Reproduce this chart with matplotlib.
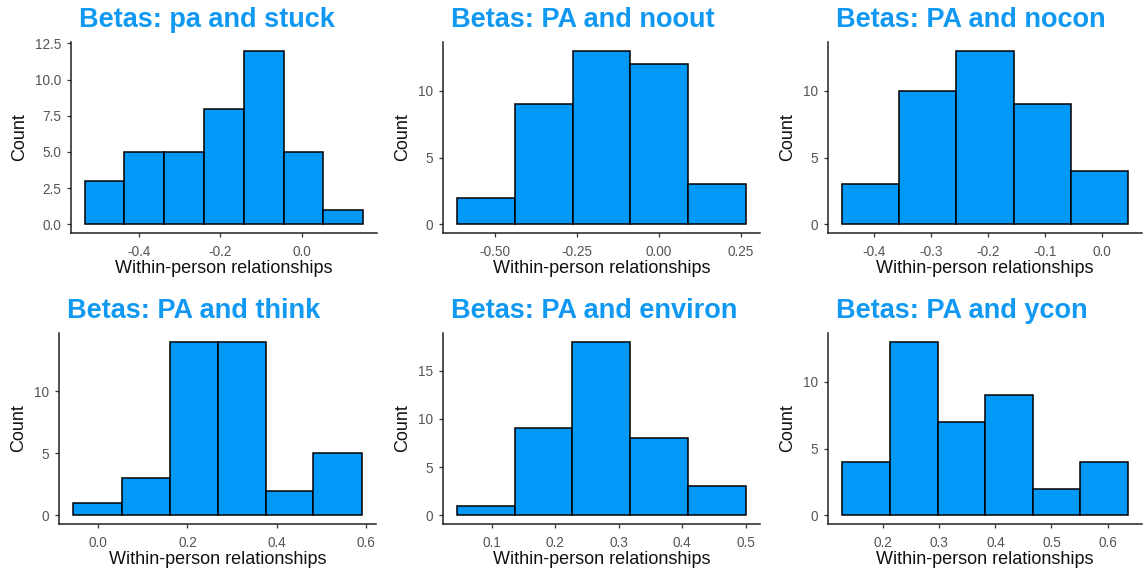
import numpy as np
import matplotlib
matplotlib.use("Agg")
import matplotlib.pyplot as plt

plt.rcParams["font.family"] = ["Liberation Sans", "DejaVu Sans"]
plt.rcParams["axes.unicode_minus"] = False

# Histogram bins (edges) and counts for each beta distribution
titles = [
    "Betas: pa and stuck",
    "Betas: PA and noout",
    "Betas: PA and nocon",
    "Betas: PA and think",
    "Betas: PA and environ",
    "Betas: PA and ycon",
]

stuck_edges = [-0.532, -0.435, -0.337, -0.240, -0.143, -0.045, 0.052, 0.150]
stuck_counts = [3, 5, 5, 8, 12, 5, 1]

noout_edges = [-0.615, -0.439, -0.263, -0.088, 0.088, 0.264]
noout_counts = [2, 9, 13, 12, 3]

nocon_edges = [-0.455, -0.355, -0.255, -0.155, -0.055, 0.045]
nocon_counts = [3, 10, 13, 9, 4]

think_edges = [-0.056, 0.052, 0.160, 0.268, 0.376, 0.483, 0.591]
think_counts = [1, 3, 14, 14, 2, 5]

environ_edges = [0.046, 0.137, 0.227, 0.318, 0.409, 0.500]
environ_counts = [1, 9, 18, 8, 3]

ycon_edges = [0.127, 0.212, 0.297, 0.382, 0.467, 0.551, 0.636]
ycon_counts = [4, 13, 7, 9, 2, 4]

# Tick positions and labels
stuck_xticks = [-0.4, -0.2, 0.0]
stuck_xlabels = ["-0.4", "-0.2", "0.0"]
stuck_yticks = [0, 2.5, 5, 7.5, 10, 12.5]
stuck_ylabels = ["0.0", "2.5", "5.0", "7.5", "10.0", "12.5"]

noout_xticks = [-0.5, -0.25, 0.0, 0.25]
noout_xlabels = ["-0.50", "-0.25", "0.00", "0.25"]

nocon_xticks = [-0.4, -0.3, -0.2, -0.1, 0.0]
nocon_xlabels = ["-0.4", "-0.3", "-0.2", "-0.1", "0.0"]

think_xticks = [0.0, 0.2, 0.4, 0.6]
think_xlabels = ["0.0", "0.2", "0.4", "0.6"]

environ_xticks = [0.1, 0.2, 0.3, 0.4, 0.5]
environ_xlabels = ["0.1", "0.2", "0.3", "0.4", "0.5"]
environ_yticks = [0, 5, 10, 15]

ycon_xticks = [0.2, 0.3, 0.4, 0.5, 0.6]
ycon_xlabels = ["0.2", "0.3", "0.4", "0.5", "0.6"]

count_yticks = [0, 5, 10]

panels = [
    (stuck_edges, stuck_counts, stuck_xticks, stuck_xlabels, stuck_yticks, stuck_ylabels),
    (noout_edges, noout_counts, noout_xticks, noout_xlabels, count_yticks, None),
    (nocon_edges, nocon_counts, nocon_xticks, nocon_xlabels, count_yticks, None),
    (think_edges, think_counts, think_xticks, think_xlabels, count_yticks, None),
    (environ_edges, environ_counts, environ_xticks, environ_xlabels, environ_yticks, None),
    (ycon_edges, ycon_counts, ycon_xticks, ycon_xlabels, count_yticks, None),
]

W, H = 1143, 576
fig = plt.figure(figsize=(W / 100, H / 100), dpi=100)

# Panel boxes in pixels: (left, top, right, bottom)
boxes = [
    (71, 42, 377, 233),
    (443, 42, 760, 233),
    (828, 42, 1142, 233),
    (59, 333, 376, 524),
    (443, 333, 760, 524),
    (828, 333, 1142, 524),
]

fill = "#0099f7"
title_color = "#1199f2"

for (edges, counts, xt, xl, yt, yl), title, (l, t, r, b) in zip(panels, titles, boxes):
    ax = fig.add_axes([l / W, (H - b) / H, (r - l) / W, (b - t) / H])
    edges = np.asarray(edges)
    ax.bar(edges[:-1], counts, width=np.diff(edges), align="edge",
           color=fill, edgecolor="black", linewidth=1.1)
    ax.use_sticky_edges = False
    ax.margins(x=0.05, y=0.05)

    for side in ("top", "right"):
        ax.spines[side].set_visible(False)
    for side in ("left", "bottom"):
        ax.spines[side].set_color("#222222")
        ax.spines[side].set_linewidth(1.1)

    ax.set_xticks(xt)
    ax.set_xticklabels(xl)
    ax.set_yticks(yt)
    if yl is not None:
        ax.set_yticklabels(yl)
    ax.tick_params(axis="both", length=3, width=0.9, color="#333333",
                   labelcolor="#555555", labelsize=9.8)
    ax.tick_params(axis="x", pad=5.5)
    ax.tick_params(axis="y", pad=4)

    ax.set_xlabel("Within-person relationships", fontsize=13, color="#111111", labelpad=1)
    ax.set_ylabel("Count", fontsize=13, color="#111111", labelpad=5)
    ax.set_title(title, loc="left", fontsize=19.5, fontweight="bold",
                 color=title_color, pad=11, x=0.025)

fig.savefig("out.png", dpi=100, facecolor="white")
